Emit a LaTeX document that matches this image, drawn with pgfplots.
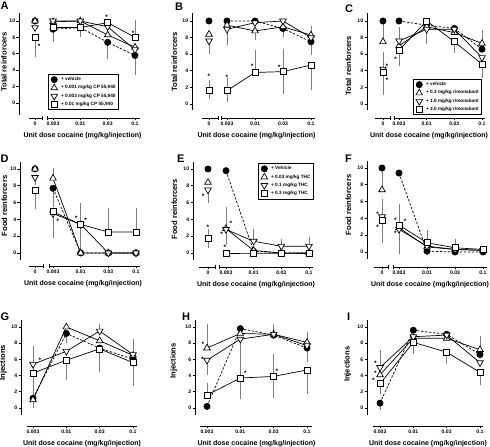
\documentclass[border=0pt]{standalone}
\usepackage{pgfplots}
\pgfplotsset{compat=1.18}
\usepackage{fontspec}
\setmainfont{Liberation Sans}
\usetikzlibrary{calc}
\definecolor{errgray}{RGB}{125,125,125}
\pgfplotsset{
 panel/.style={scale only axis, clip=false, anchor=south west,
   axis x line*=bottom, axis y line*=left, axis line style={draw=none},
   tick align=outside, major tick length=2.5pt,
   every tick/.style={black, line width=0.7pt},
   ytick={0,2,4,6,8,10},
   tick label style={font=\fontsize{5.1}{6}\selectfont\bfseries},
   yticklabel style={anchor=east, inner sep=1.2pt},
   xticklabel style={anchor=north, inner sep=1.5pt},
   /pgf/number format/assume math mode=true,
   xlabel={Unit dose cocaine (mg/kg/injection)},
   xlabel style={at={(axis description cs:0.5,0)}, anchor=center, yshift=-18pt, xshift=3pt, font=\fontsize{7}{8}\selectfont\bfseries},
   ylabel style={font=\fontsize{7.6}{8}\selectfont\bfseries, anchor=south, inner sep=0.5pt},
   legend style={draw=black, line width=0.8pt, font=\fontsize{4.7}{5.2}\selectfont\bfseries, inner xsep=1pt, inner ysep=0.8pt, row sep=-0.6pt, cells={anchor=west}},
   legend image code/.code={\path (0pt,0pt) (9pt,0pt); \draw[##1] plot[only marks] coordinates {(4.5pt,0pt)};},
 },
 veh/.style={black, line width=0.7pt, dash pattern=on 2.4pt off 1.6pt, mark=*, mark size=3.1pt, mark options={solid, fill=black}},
 tup/.style={black, line width=0.7pt, solid, mark=triangle*, mark size=3.8pt, mark options={solid, fill=white}},
 tdn/.style={black, line width=0.7pt, solid, mark=triangle*, mark size=3.8pt, mark options={solid, fill=white, rotate=180}},
 sqr/.style={black, line width=0.7pt, solid, mark=square*, mark size=3.0pt, mark options={solid, fill=white}},
 errp/.style={draw=none, mark=none, forget plot, error bars/.cd, y dir=plus, y explicit, error bar style={draw=errgray, line width=0.8pt, solid}, error mark options={draw=errgray, mark size=2.6pt, line width=0.8pt, solid}},
 errm/.style={draw=none, mark=none, forget plot, error bars/.cd, y dir=minus, y explicit, error bar style={draw=errgray, line width=0.8pt, solid}, error mark options={draw=errgray, mark size=2.6pt, line width=0.8pt, solid}},
}
\tikzset{axln/.style={black, line width=0.8pt}, ast/.style={font=\fontsize{6.5}{7}\selectfont\bfseries, inner sep=0pt, yshift=-1pt}, plab/.style={anchor=north west, inner sep=0pt, font=\fontsize{11}{11}\selectfont\bfseries}}
\newcommand{\series}[3]{\addplot[#1, forget plot] coordinates {#2}; \addplot[#1] coordinates {#3};}
\newcommand{\brk}[3]{%
 \draw[axln] (axis cs:#2,#1) ++(0pt,-1.6pt) -- ++(0pt,3.2pt);
 \draw[axln] (axis cs:#3,#1) ++(0pt,-1.6pt) -- ++(0pt,3.2pt);}
\begin{document}
\begin{tikzpicture}
\useasboundingbox (0pt,0pt) rectangle (490pt,447pt);
\node[plab] at (0.5pt,445pt) {A};
\node[plab] at (175pt,444pt) {B};
\node[plab] at (345pt,442pt) {C};
\node[plab] at (0.5pt,292pt) {D};
\node[plab] at (177pt,292pt) {E};
\node[plab] at (345pt,292pt) {F};
\node[plab] at (0.5pt,134pt) {G};
\node[plab] at (182pt,134pt) {H};
\node[plab] at (347pt,134pt) {I};

% ---------------- A ----------------
\begin{axis}[panel, at={(19pt,329pt)}, xmin=-0.244, xmax=4.183, ymin=-1.829, ymax=10.976, width=121pt, height=105pt,
 xtick={0.341,1,2,3,4}, xticklabels={0,0.003,0.01,0.03,0.1},
 ylabel={Total reinforcers}, ylabel style={at={($(axis cs:-0.244,5.0)+(-11.5pt,0pt)$)}},
 legend style={at={(axis cs:0.817,3.54)}, anchor=north west}]
\draw[axln] (axis cs:-0.244,-1.46) -- (axis cs:-0.244,10.976);
\draw[axln] (axis cs:0.122,-1.829) -- (axis cs:0.598,-1.829);
\draw[axln] (axis cs:0.780,-1.829) -- (axis cs:4.183,-1.829);
\brk{-1.829}{0.598}{0.780}
\addplot[errp] coordinates {(4,8.0) +- (0,1.8)};
\addplot[errm] coordinates {(0.341,8.0) +- (0,2.1) (1,9.2) +- (0,1.4) (2,9.2) +- (0,0.8) (3,7.4) +- (0,1.7) (4,5.8) +- (0,2.1)};
\series{veh}{(0.341,10)}{(1,9.0) (2,9.2) (3,7.4) (4,5.8)}
\addlegendentry{+ vehicle}
\series{tup}{(0.341,10)}{(1,9.9) (2,10) (3,8.3) (4,6.8)}
\addlegendentry{+ 0.001 mg/kg CP 55,940}
\series{tdn}{(0.341,9.2)}{(1,10) (2,10) (3,9.3) (4,6.5)}
\addlegendentry{+ 0.003 mg/kg CP 55,940}
\series{sqr}{(0.341,8.0)}{(1,9.2) (2,9.2) (3,9.8) (4,8.0)}
\addlegendentry{+ 0.01 mg/kg CP 55,940}
\node[ast] at (axis cs:0.49,7.0) {*};
\node[ast] at (axis cs:2.96,10.6) {*};
\node[ast] at (axis cs:3.93,8.66) {*};
\end{axis}

% ---------------- B ----------------
\begin{axis}[panel, at={(192pt,329pt)}, xmin=-0.25, xmax=4.143, ymin=-1.687, ymax=10.964, width=123pt, height=105pt,
 xtick={0.357,1,2,3,4}, xticklabels={0,0.003,0.01,0.03,0.1},
 ylabel={Total reinforcers}, ylabel style={at={($(axis cs:-0.25,5.06)+(-14pt,0pt)$)}}]
\draw[axln] (axis cs:-0.25,-0.72) -- (axis cs:-0.25,10.964);
\draw[axln] (axis cs:0.107,-1.687) -- (axis cs:0.679,-1.687);
\draw[axln] (axis cs:0.786,-1.687) -- (axis cs:4.143,-1.687);
\brk{-1.687}{0.679}{0.786}
\addplot[errp] coordinates {(0.357,1.7) +- (0,0.9) (1,1.6) +- (0,1.2) (2,3.8) +- (0,2.4) (3,3.9) +- (0,2.4) (4,8.0) +- (0,1.1)};
\addplot[errm] coordinates {(0.357,7.6) +- (0,1.3) (0.357,1.7) +- (0,0.8) (1,1.6) +- (0,1.1) (1,9.5) +- (0,2.1) (2,8.8) +- (0,0.8) (3,9.3) +- (0,0.9) (3,3.9) +- (0,2.4) (4,4.7) +- (0,2.7) (4,7.5) +- (0,1.3)};
\series{veh}{(0.357,10)}{(1,10) (2,10) (3,9.1) (4,7.5)}
\series{tup}{(0.357,8.4)}{(1,9.5) (2,8.8) (3,9.3) (4,8.3)}
\series{tdn}{(0.357,7.6)}{(1,9.0) (2,9.8) (3,10) (4,8.0)}
\series{sqr}{(0.357,1.7)}{(1,1.6) (2,3.8) (3,3.9) (4,4.7)}
\node[ast] at (axis cs:0.357,3.5) {*};
\node[ast] at (axis cs:1,3.4) {*};
\node[ast] at (axis cs:1.9,4.7) {*};
\node[ast] at (axis cs:2.86,4.6) {*};
\end{axis}

% ---------------- C ----------------
\begin{axis}[panel, at={(367pt,329pt)}, xmin=-0.157, xmax=4.108, ymin=-1.687, ymax=10.964, width=118pt, height=105pt,
 xtick={0.42,1,2,3,4}, xticklabels={0,0.003,0.01,0.03,0.1},
 ylabel={Total reinforcers}, ylabel style={at={($(axis cs:-0.157,4.6)+(-15pt,0pt)$)}},
 legend style={at={(axis cs:1.506,3.01)}, anchor=north west}]
\draw[axln] (axis cs:-0.157,-0.72) -- (axis cs:-0.157,10.964);
\draw[axln] (axis cs:0.133,-1.687) -- (axis cs:0.675,-1.687);
\draw[axln] (axis cs:0.819,-1.687) -- (axis cs:4.108,-1.687);
\brk{-1.687}{0.675}{0.819}
\addplot[errp] coordinates {(0.42,7.5) +- (0,2.0) (0.42,4.2) +- (0,1.8) (1,7.6) +- (0,1.4) (4,7.3) +- (0,1.3)};
\addplot[errm] coordinates {(0.42,3.8) +- (0,2.4) (1,6.5) +- (0,1.6) (1,7.0) +- (0,1.7) (2,9.0) +- (0,1.5) (3,7.5) +- (0,1.0) (4,4.8) +- (0,1.3)};
\series{veh}{(0.42,10)}{(1,10) (2,9.5) (3,9.1) (4,6.6)}
\addlegendentry{+ vehicle}
\series{tup}{(0.42,7.5)}{(1,7.0) (2,9.3) (3,8.6) (4,7.3)}
\addlegendentry{+ 0.3 mg/kg rimonabant}
\series{tdn}{(0.42,4.2)}{(1,7.6) (2,9.0) (3,9.0) (4,5.6)}
\addlegendentry{+ 1.0 mg/kg rimonabant}
\series{sqr}{(0.42,3.8)}{(1,6.5) (2,10) (3,7.5) (4,4.8)}
\addlegendentry{+ 3.0 mg/kg rimonabant}
\node[ast] at (axis cs:0.56,4.7) {*};
\node[ast] at (axis cs:0.56,3.0) {*};
\node[ast] at (axis cs:0.88,5.5) {*};
\end{axis}

% ---------------- D ----------------
\begin{axis}[panel, at={(20pt,181pt)}, xmin=-0.193, xmax=4.145, ymin=-1.548, ymax=10.833, width=120pt, height=104pt,
 xtick={0.349,1,2,3,4}, xticklabels={0,0.003,0.01,0.03,0.1},
 ylabel={Food reinforcers}, ylabel style={at={($(axis cs:-0.193,5.6)+(-12pt,0pt)$)}}]
\draw[axln] (axis cs:-0.193,-0.83) -- (axis cs:-0.193,10.833);
\draw[axln] (axis cs:0.133,-1.548) -- (axis cs:0.639,-1.548);
\draw[axln] (axis cs:0.855,-1.548) -- (axis cs:4.145,-1.548);
\brk{-1.548}{0.639}{0.855}
\addplot[errp] coordinates {(1,8.9) +- (0,0.9) (2,3.4) +- (0,2.3) (3,2.5) +- (0,2.5) (4,2.5) +- (0,2.5)};
\addplot[errm] coordinates {(0.349,9.0) +- (0,0.6) (0.349,7.5) +- (0,2.0) (1,7.7) +- (0,1.9) (1,4.9) +- (0,2.8) (1,4.7) +- (0,2.1) (2,3.4) +- (0,2.7)};
\series{veh}{(0.349,10)}{(1,7.7) (2,0) (3,0) (4,0)}
\series{tup}{(0.349,10)}{(1,8.9) (2,0) (3,0) (4,0)}
\series{tdn}{(0.349,9.0)}{(1,4.7) (2,3.4) (3,0) (4,0)}
\series{sqr}{(0.349,7.5)}{(1,4.9) (2,3.4) (3,2.5) (4,2.5)}
\node[ast] at (axis cs:1.18,3.9) {*};
\node[ast] at (axis cs:1.84,4.2) {*};
\node[ast] at (axis cs:2.18,4.0) {*};
\end{axis}

% ---------------- E ----------------
\begin{axis}[panel, at={(193pt,180pt)}, xmin=-0.193, xmax=4.145, ymin=-1.667, ymax=10.833, width=120pt, height=105pt,
 xtick={0.349,1,2,3,4}, xticklabels={0,0.003,0.01,0.03,0.1},
 ylabel={Food reinforcers}, ylabel style={at={($(axis cs:-0.193,5.2)+(-15pt,0pt)$)}},
 legend style={at={(axis cs:2.16,10.7)}, anchor=north west}]
\draw[axln] (axis cs:-0.193,-0.83) -- (axis cs:-0.193,10.833);
\draw[axln] (axis cs:0.024,-1.667) -- (axis cs:0.602,-1.667);
\draw[axln] (axis cs:0.747,-1.667) -- (axis cs:4.145,-1.667);
\brk{-1.667}{0.602}{0.747}
\addplot[errp] coordinates {(0.349,1.7) +- (0,0.9) (1,2.9) +- (0,2.3) (2,1.4) +- (0,1.2) (3,0.8) +- (0,0.6) (4,0.8) +- (0,0.8)};
\addplot[errm] coordinates {(0.349,7.5) +- (0,1.2) (0.349,1.7) +- (0,0.8) (1,2.8) +- (0,1.5)};
\series{veh}{(0.349,10)}{(1,9.8) (2,0.2) (3,0) (4,0)}
\addlegendentry{+ Vehicle}
\series{tup}{(0.349,8.4)}{(1,2.9) (2,0.3) (3,0) (4,0)}
\addlegendentry{+ 0.03 mg/kg THC}
\series{tdn}{(0.349,7.5)}{(1,2.8) (2,1.4) (3,0.8) (4,0.8)}
\addlegendentry{+ 0.1 mg/kg THC}
\series{sqr}{(0.349,1.7)}{(1,0) (2,0) (3,0) (4,0)}
\addlegendentry{+ 0.3 mg/kg THC}
\node[ast] at (axis cs:0.17,6.9) {*};
\node[ast] at (axis cs:0.349,3.2) {*};
\node[ast] at (axis cs:0.84,2.3) {*};
\node[ast] at (axis cs:1.18,3.6) {*};
\node[ast] at (axis cs:0.96,0.8) {*};
\end{axis}

% ---------------- F ----------------
\begin{axis}[panel, at={(367pt,180pt)}, xmin=-0.143, xmax=4.143, ymin=-1.786, ymax=10.833, width=120pt, height=106pt,
 xtick={0.393,1,2,3,4}, xticklabels={0,0.003,0.01,0.03,0.1},
 ylabel={Food reinforcers}, ylabel style={at={($(axis cs:-0.143,5.6)+(-15pt,0pt)$)}}]
\draw[axln] (axis cs:-0.143,-0.83) -- (axis cs:-0.143,10.833);
\draw[axln] (axis cs:0.107,-1.786) -- (axis cs:0.607,-1.786);
\draw[axln] (axis cs:0.786,-1.786) -- (axis cs:4.143,-1.786);
\brk{-1.786}{0.607}{0.786}
\addplot[errp] coordinates {(0.393,7.4) +- (0,2.1) (0.393,4.2) +- (0,1.8) (1,3.2) +- (0,2.2) (2,1.1) +- (0,1.2) (3,0.5) +- (0,0.7)};
\addplot[errm] coordinates {(0.393,3.8) +- (0,2.4) (1,2.7) +- (0,2.6) (1,3.2) +- (0,2.1)};
\series{veh}{(0.393,10)}{(1,9.4) (2,0.1) (3,0) (4,0)}
\series{tup}{(0.393,7.4)}{(1,2.9) (2,0.6) (3,0.3) (4,0.2)}
\series{tdn}{(0.393,4.2)}{(1,2.7) (2,0.7) (3,0.3) (4,0.2)}
\series{sqr}{(0.393,3.8)}{(1,3.2) (2,1.1) (3,0.5) (4,0.3)}
\node[ast] at (axis cs:0.24,4.6) {*};
\node[ast] at (axis cs:0.24,3.1) {*};
\node[ast] at (axis cs:0.87,3.9) {*};
\node[ast] at (axis cs:1.22,3.8) {*};
\node[ast] at (axis cs:0.87,2.3) {*};
\end{axis}

% ---------------- G ----------------
\begin{axis}[panel, at={(21pt,21pt)}, xmin=0.64, xmax=4.12, ymin=-2.222, ymax=10.864, width=116pt, height=106pt,
 xtick={1,2,3,4}, xticklabels={0.003,0.01,0.03,0.1},
 ylabel={Injections}, ylabel style={at={($(axis cs:0.64,5.6)+(-13.5pt,0pt)$)}}]
\draw[axln] (axis cs:0.64,-0.86) -- (axis cs:0.64,10.864);
\draw[axln] (axis cs:0.82,-2.222) -- (axis cs:4.12,-2.222);
\addplot[errp] coordinates {(1,5.4) +- (0,1.9) (1,4.3) +- (0,2.4) (1,1.0) +- (0,0.9) (3,9.5) +- (0,0.5) (4,6.0) +- (0,2.2)};
\addplot[errm] coordinates {(1,4.3) +- (0,2.5) (1,1.2) +- (0,0.9) (2,9.2) +- (0,0.9) (2,5.9) +- (0,2.1) (3,7.3) +- (0,2.5) (4,5.6) +- (0,2.6)};
\addplot[veh] coordinates {(1,1.2) (2,9.2) (3,7.4) (4,6.0)};
\addplot[tup] coordinates {(1,1.0) (2,10) (3,8.3) (4,6.5)};
\addplot[tdn] coordinates {(1,5.4) (2,7.0) (3,9.5) (4,6.6)};
\addplot[sqr] coordinates {(1,4.3) (2,5.9) (3,7.3) (4,5.6)};
\node[ast] at (axis cs:1.21,6.0) {*};
\end{axis}

% ---------------- H ----------------
\begin{axis}[panel, at={(195pt,21pt)}, xmin=0.64, xmax=4.15, ymin=-2.222, ymax=10.864, width=117pt, height=106pt,
 xtick={1,2,3,4}, xticklabels={0.003,0.01,0.03,0.1},
 ylabel={Injections}, ylabel style={at={($(axis cs:0.64,5.8)+(-17pt,0pt)$)}}]
\draw[axln] (axis cs:0.64,-0.86) -- (axis cs:0.64,10.864);
\draw[axln] (axis cs:0.79,-2.222) -- (axis cs:4.15,-2.222);
\addplot[errp] coordinates {(1,7.4) +- (0,2.6) (1,1.6) +- (0,1.2) (2,3.7) +- (0,2.5) (3,3.9) +- (0,2.4) (3,9.1) +- (0,0.9) (4,8.1) +- (0,1.0)};
\addplot[errm] coordinates {(1,5.9) +- (0,1.5) (2,8.5) +- (0,1.7) (2,3.7) +- (0,2.3) (3,3.9) +- (0,2.4) (4,7.7) +- (0,1.7) (4,4.7) +- (0,2.7)};
\addplot[veh] coordinates {(1,0.2) (2,9.8) (3,9.0) (4,7.4)};
\addplot[tup] coordinates {(1,7.4) (2,9.2) (3,9.1) (4,8.1)};
\addplot[tdn] coordinates {(1,5.9) (2,8.5) (3,9.1) (4,7.7)};
\addplot[sqr] coordinates {(1,1.6) (2,3.7) (3,3.9) (4,4.7)};
\node[ast] at (axis cs:0.88,8.0) {*};
\node[ast] at (axis cs:0.86,6.2) {*};
\node[ast] at (axis cs:2.15,4.4) {*};
\node[ast] at (axis cs:3.1,4.7) {*};
\end{axis}

% ---------------- I ----------------
\begin{axis}[panel, at={(367pt,21pt)}, xmin=0.61, xmax=4.09, ymin=-2.222, ymax=10.864, width=116pt, height=106pt,
 xtick={1,2,3,4}, xticklabels={0.003,0.01,0.03,0.1},
 ylabel={Injections}, ylabel style={at={($(axis cs:0.61,5.4)+(-15pt,0pt)$)}}]
\draw[axln] (axis cs:0.61,-0.86) -- (axis cs:0.61,10.864);
\draw[axln] (axis cs:0.79,-2.222) -- (axis cs:4.09,-2.222);
\addplot[errp] coordinates {(1,5.0) +- (0,1.9) (4,7.2) +- (0,1.4)};
\addplot[errm] coordinates {(1,0.6) +- (0,0.5) (1,3.0) +- (0,1.0) (2,8.1) +- (0,1.1) (3,6.9) +- (0,1.1) (4,4.4) +- (0,1.3)};
\addplot[veh] coordinates {(1,0.6) (2,9.6) (3,9.1) (4,6.6)};
\addplot[tup] coordinates {(1,4.1) (2,8.6) (3,8.6) (4,7.2)};
\addplot[tdn] coordinates {(1,5.0) (2,8.8) (3,9.0) (4,5.6)};
\addplot[sqr] coordinates {(1,3.0) (2,8.1) (3,6.9) (4,4.4)};
\node[ast] at (axis cs:0.86,5.7) {*};
\node[ast] at (axis cs:0.86,4.4) {*};
\node[ast] at (axis cs:0.8,3.5) {*};
\end{axis}
\end{tikzpicture}
\end{document}
